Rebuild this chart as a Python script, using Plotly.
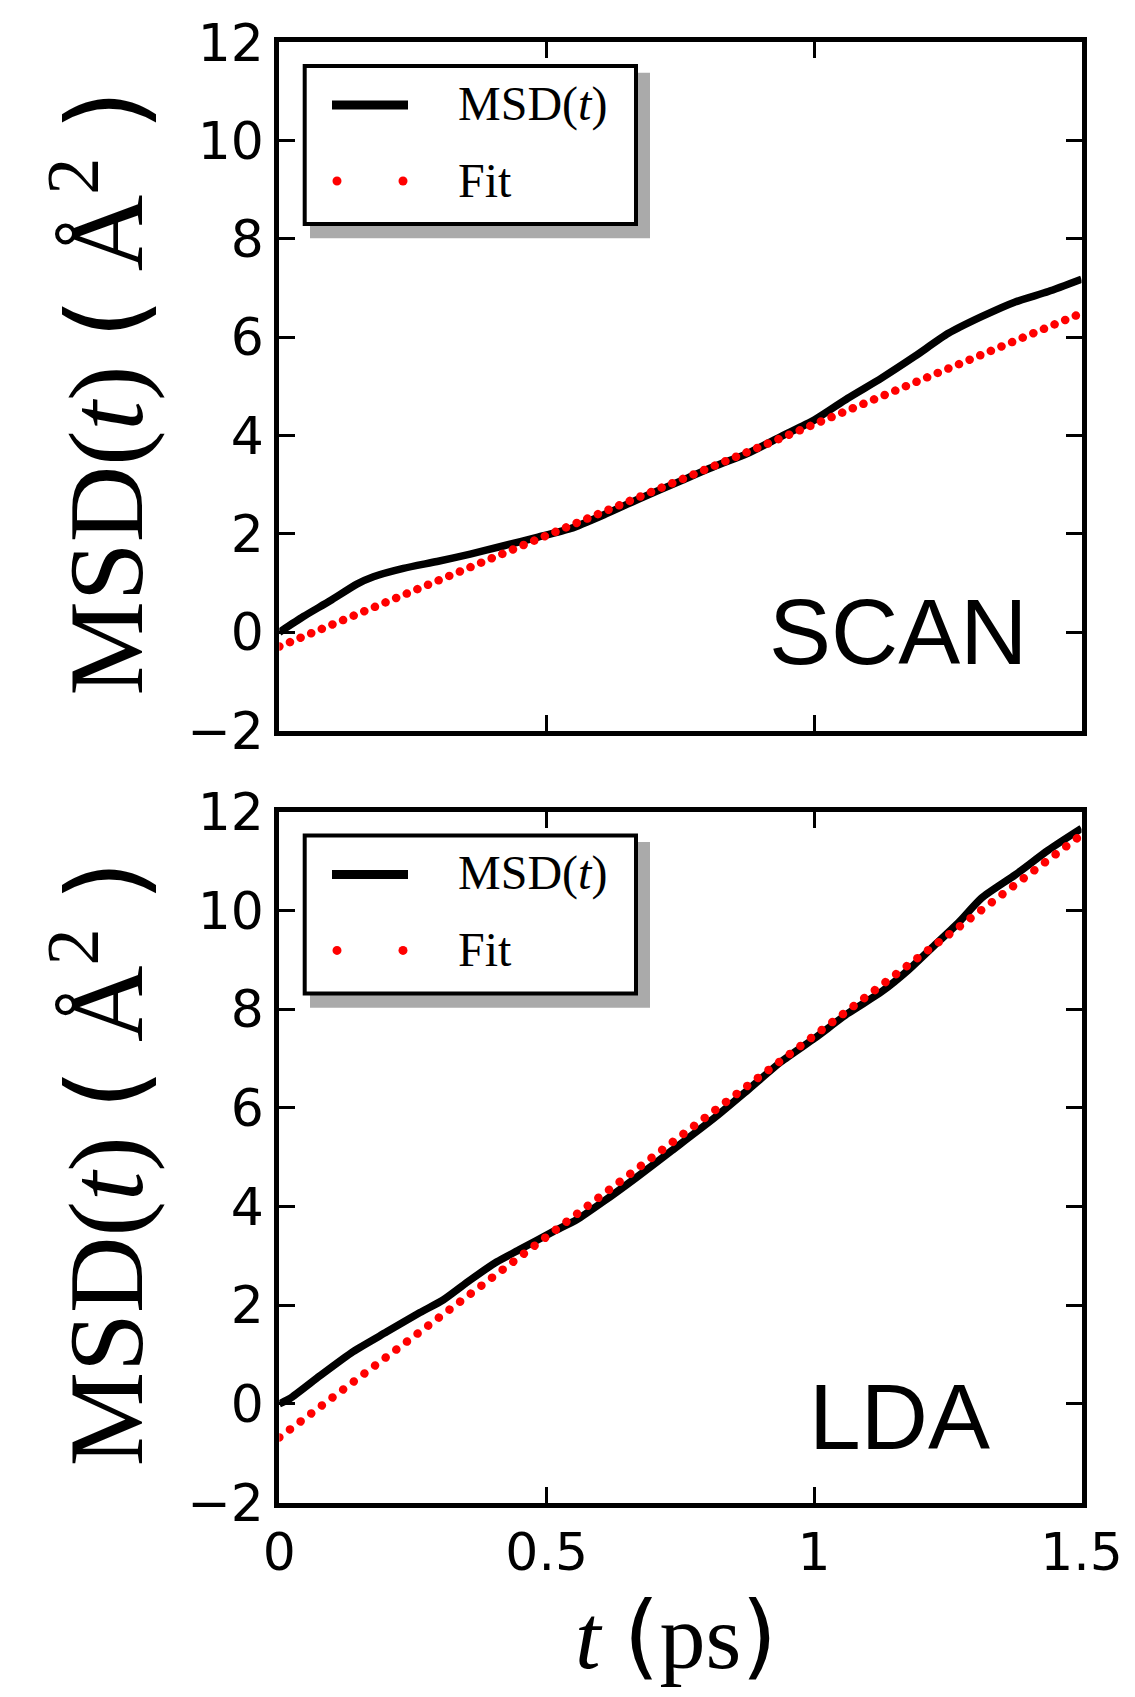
import plotly.graph_objects as go

# ---- data -------------------------------------------------------------
# SCAN: mean-square displacement vs time
t_scan = [0.0, 0.045, 0.095, 0.145, 0.176, 0.232, 0.295, 0.357, 0.420, 0.482,
          0.545, 0.607, 0.670, 0.751, 0.813, 0.876, 0.938, 1.001, 1.063, 1.126,
          1.188, 1.251, 1.313, 1.376, 1.438, 1.500]
msd_scan = [0.00, 0.32, 0.64, 0.98, 1.13, 1.30, 1.44, 1.59, 1.76, 1.93,
            2.11, 2.39, 2.70, 3.08, 3.37, 3.64, 3.98, 4.32, 4.76, 5.17,
            5.61, 6.08, 6.42, 6.72, 6.93, 7.18]

# LDA: mean-square displacement vs time
t_lda = [0.0, 0.020, 0.076, 0.138, 0.201, 0.263, 0.307, 0.357, 0.407, 0.450,
         0.512, 0.556, 0.606, 0.668, 0.731, 0.813, 0.876, 0.938, 1.001, 1.063,
         1.126, 1.176, 1.219, 1.269, 1.313, 1.376, 1.438, 1.500]
msd_lda = [0.00, 0.11, 0.57, 1.06, 1.46, 1.85, 2.11, 2.51, 2.88, 3.13,
           3.49, 3.73, 4.10, 4.59, 5.11, 5.79, 6.36, 6.93, 7.41, 7.91,
           8.35, 8.79, 9.23, 9.74, 10.25, 10.72, 11.22, 11.66]

# Linear fits (end points of the fitted line)
fit_t = [0.0, 1.5]
fit_scan = [-0.29, 6.49]
fit_lda = [-0.68, 11.53]

x_ticks = [0, 0.5, 1, 1.5]
x_ticktext = ["0", "0.5", "1", "1.5"]
y_ticks = [-2, 0, 2, 4, 6, 8, 10, 12]
panel_names = ["SCAN", "LDA"]

# ---- layout geometry (pixels) ----------------------------------------
W, H = 1135, 1697
PX_L, PX_R = 279.3, 1081.5
PANELS_Y = [(42.3, 730.6), (811.7, 1502.6)]


def X(px):
    return px / W


def Y(py):
    return 1 - py / H


SERIF = "Liberation Serif"
SANS = "DejaVu Sans"
LABEL_SANS = "Liberation Sans"

fig = go.Figure()

series = [(t_scan, msd_scan, fit_scan), (t_lda, msd_lda, fit_lda)]
dot_gap = [11.4, 13.2]
for i, (tt, mm, ff) in enumerate(series):
    xa = "x" if i == 0 else "x2"
    ya = "y" if i == 0 else "y2"
    fig.add_trace(go.Scatter(
        x=tt, y=mm, mode="lines", xaxis=xa, yaxis=ya,
        line=dict(color="black", width=7.5, shape="spline", smoothing=0.6),
        showlegend=False, hoverinfo="skip"))
    fig.add_trace(go.Scatter(
        x=fit_t, y=ff, mode="lines", xaxis=xa, yaxis=ya,
        line=dict(color="rgb(255,0,0)", width=8.5,
                  dash="0.1px,%.1fpx" % dot_gap[i]),
        showlegend=False, hoverinfo="skip"))

axis_common = dict(
    showline=True, linewidth=5, linecolor="black", mirror="ticks",
    ticks="inside", ticklen=16, tickwidth=2.5, tickcolor="black",
    showgrid=False, zeroline=False, automargin=False,
    tickfont=dict(family=SANS, size=52, color="black"),
)

shapes = []
annotations = []
for i, (top, bot) in enumerate(PANELS_Y):
    sfx = "" if i == 0 else "2"
    fig.layout["xaxis" + sfx] = dict(
        axis_common, domain=[X(PX_L), X(PX_R)], range=[0, 1.5],
        tickvals=x_ticks, ticktext=x_ticktext,
        showticklabels=(i == 1), anchor="y" + sfx)
    fig.layout["yaxis" + sfx] = dict(
        axis_common, domain=[Y(bot), Y(top)], range=[-2, 12],
        tickvals=y_ticks, anchor="x" + sfx)

    dy = top - 42.3
    # legend: shadow, frame, samples and labels
    shapes.append(dict(type="rect", xref="paper", yref="paper", layer="above",
                       x0=X(310), x1=X(650), y0=Y(72.7 + dy), y1=Y(238.3 + dy),
                       fillcolor="#aaaaaa", line=dict(width=0)))
    shapes.append(dict(type="rect", xref="paper", yref="paper", layer="above",
                       x0=X(304.7), x1=X(636), y0=Y(66 + dy), y1=Y(224 + dy),
                       fillcolor="white", line=dict(color="black", width=4)))
    shapes.append(dict(type="line", xref="paper", yref="paper", layer="above",
                       x0=X(332), x1=X(408), y0=Y(105 + dy), y1=Y(105 + dy),
                       line=dict(color="black", width=9)))
    for cx in (337, 403):
        shapes.append(dict(type="circle", xref="paper", yref="paper", layer="above",
                           xsizemode="pixel", ysizemode="pixel",
                           xanchor=X(cx), yanchor=Y(181 + dy),
                           x0=-4.5, x1=4.5, y0=-4.5, y1=4.5,
                           fillcolor="rgb(255,0,0)", line=dict(width=0)))
    annotations.append(dict(xref="paper", yref="paper", x=X(456), y=Y(104 + dy),
                            xanchor="left", yanchor="middle", showarrow=False,
                            text="MSD(<i>t</i>)",
                            font=dict(family=SERIF, size=48, color="black")))
    annotations.append(dict(xref="paper", yref="paper", x=X(456), y=Y(180 + dy),
                            xanchor="left", yanchor="middle", showarrow=False,
                            text="Fit",
                            font=dict(family=SERIF, size=48, color="black")))
    # y-axis title
    annotations.append(dict(xref="paper", yref="paper", x=X(100),
                            y=Y((top + bot) / 2 + 6), textangle=-90,
                            xanchor="center", yanchor="middle", showarrow=False,
                            text="MSD(<i>t</i>) <span style='font-family:DejaVu Sans'>(</span>"
                                 " Å<sup>2</sup> <span style='font-family:DejaVu Sans'>)</span>",
                            font=dict(family=SERIF, size=106, color="black")))

# panel names
annotations.append(dict(xref="paper", yref="paper", x=X(898), y=Y(631.5),
                        xanchor="center", yanchor="middle", showarrow=False,
                        text=panel_names[0],
                        font=dict(family=LABEL_SANS, size=93, color="black")))
annotations.append(dict(xref="paper", yref="paper", x=X(899.5), y=Y(1416.5),
                        xanchor="center", yanchor="middle", showarrow=False,
                        text=panel_names[1],
                        font=dict(family=LABEL_SANS, size=93, color="black")))
# x-axis title
annotations.append(dict(xref="paper", yref="paper", x=X(676), y=Y(1636),
                        xanchor="center", yanchor="middle", showarrow=False,
                        text="<i>t</i> <span style='font-family:DejaVu Sans'>(</span>ps"
                             "<span style='font-family:DejaVu Sans'>)</span>",
                        font=dict(family=SERIF, size=92, color="black")))

fig.update_layout(
    width=W, height=H, margin=dict(l=0, r=0, t=0, b=0, autoexpand=False),
    paper_bgcolor="white", plot_bgcolor="white",
    showlegend=False, shapes=shapes, annotations=annotations,
)

round_caps = (
    "var gd=document.getElementById('{plot_id}');"
    "gd.querySelectorAll('.scatterlayer .js-line').forEach(function(p){"
    "if((p.style.stroke||'').indexOf('255, 0, 0')>=0){p.style.strokeLinecap='round';}});"
)
fig.write_html("out.html", post_script=round_caps)
